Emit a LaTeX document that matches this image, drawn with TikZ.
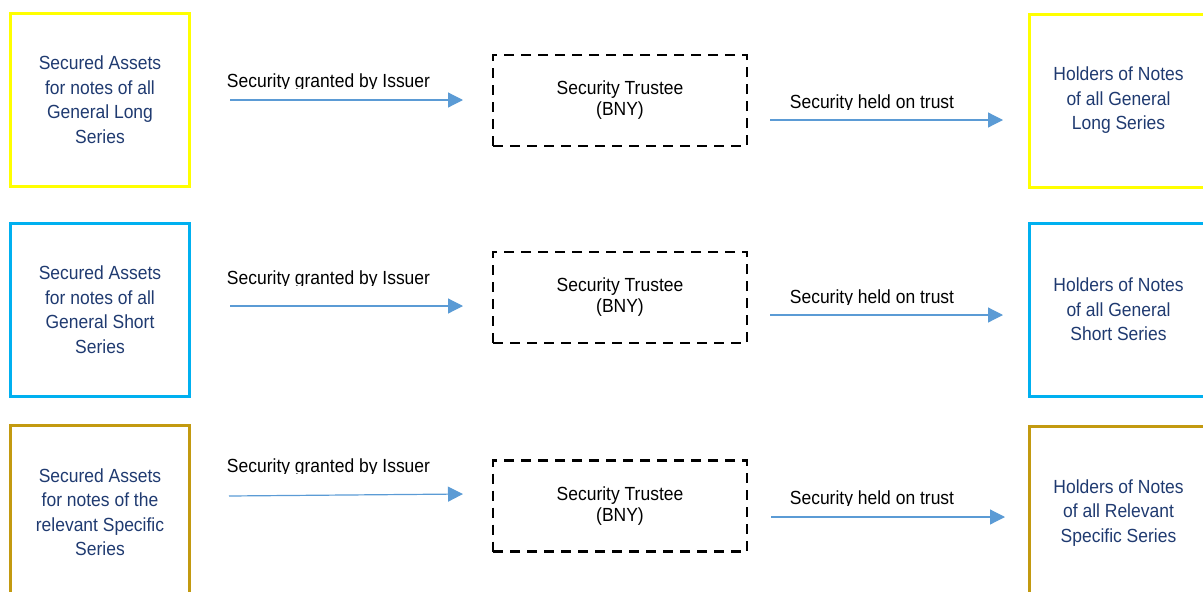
\documentclass[tikz,border=0pt]{standalone}
\usepackage{fontspec}
\setmainfont{Liberation Sans}[FakeStretch=0.92]
\usetikzlibrary{arrows.meta}
\definecolor{navy}{HTML}{1F3A70}
\definecolor{boxyellow}{HTML}{FFFF00}
\definecolor{boxblue}{HTML}{00B0F0}
\definecolor{boxgold}{HTML}{C39A10}
\definecolor{arrowblue}{HTML}{5B9BD5}
\begin{document}
\begin{tikzpicture}[x=1pt,y=-1pt,
  outerbox/.style={draw, line width=3pt, minimum width=179pt, minimum height=173pt,
    inner sep=0pt, align=center, text=navy, font=\fontsize{19}{24.5}\selectfont},
  trustbox/.style={draw=black, line width=2.4pt, dash pattern=on 10pt off 7pt,
    minimum width=254pt, minimum height=91pt, inner sep=0pt, align=center,
    font=\fontsize{19}{21}\selectfont},
  flow/.style={draw=arrowblue, line width=1.2pt, -{Triangle[length=15pt,width=15pt]}},
  flowlabel/.style={anchor=base, inner sep=0pt, font=\fontsize{19}{20}\selectfont}]
\useasboundingbox (0,0) rectangle (1203,592);
\clip (0,0) rectangle (1203,592);

% boxes
\node[outerbox, draw=boxyellow] (L1) at (100,99.5) {Secured Assets\\for notes of all\\General Long\\Series};
\node[outerbox, draw=boxblue] (L2) at (100,309.5) {Secured Assets\\for notes of all\\General Short\\Series};
\node[outerbox, draw=boxgold] (L3) at (100,512) {Secured Assets\\for notes of the\\relevant Specific\\Series};

\node[outerbox, draw=boxyellow] (R1) at (1118.5,100.5) {Holders of Notes\\of all General\\Long Series};
\node[outerbox, draw=boxblue] (R2) at (1118.5,309.5) {Holders of Notes\\of all General\\Short Series};
\node[outerbox, draw=boxgold] (R3) at (1118.5,513) {Holders of Notes\\of all Relevant\\Specific Series};

\node[trustbox] (T1) at (620,100.5) {Security Trustee\\(BNY)};
\node[trustbox] (T2) at (620,297.5) {Security Trustee\\(BNY)};
\node[trustbox] (T3) at (620,506) {Security Trustee\\(BNY)};

% arrow end points
\coordinate (a1s) at (230,100); \coordinate (a1e) at (463,100);
\coordinate (b1s) at (770,120); \coordinate (b1e) at (1003,120);
\coordinate (a2s) at (230,306); \coordinate (a2e) at (463,306);
\coordinate (b2s) at (770,315); \coordinate (b2e) at (1003,315);
\coordinate (a3s) at (229,496); \coordinate (a3e) at (463,494);
\coordinate (b3s) at (771,517); \coordinate (b3e) at (1005,517);

\draw[flow] (a1s) -- (a1e);
\draw[flow] (b1s) -- (b1e);
\draw[flow] (a2s) -- (a2e);
\draw[flow] (b2s) -- (b2e);
\draw[flow] (a3s) -- (a3e);
\draw[flow] (b3s) -- (b3e);

% labels (descenders cut off as in the original)
\begin{scope}\clip (200,60) rectangle (460,88.2);
\node[flowlabel] (g1) at (328.5,87) {Security granted by Issuer};\end{scope}
\begin{scope}\clip (200,257) rectangle (460,285.2);
\node[flowlabel] (g2) at (328.5,284) {Security granted by Issuer};\end{scope}
\begin{scope}\clip (200,445) rectangle (460,473.2);
\node[flowlabel] (g3) at (328.5,472) {Security granted by Issuer};\end{scope}

\begin{scope}\clip (760,81) rectangle (990,109.2);
\node[flowlabel] (h1) at (872,108) {Security held on trust};\end{scope}
\begin{scope}\clip (760,276) rectangle (990,304.2);
\node[flowlabel] (h2) at (872,303) {Security held on trust};\end{scope}
\begin{scope}\clip (760,477) rectangle (990,505.2);
\node[flowlabel] (h3) at (872,504) {Security held on trust};\end{scope}
\end{tikzpicture}
\end{document}
